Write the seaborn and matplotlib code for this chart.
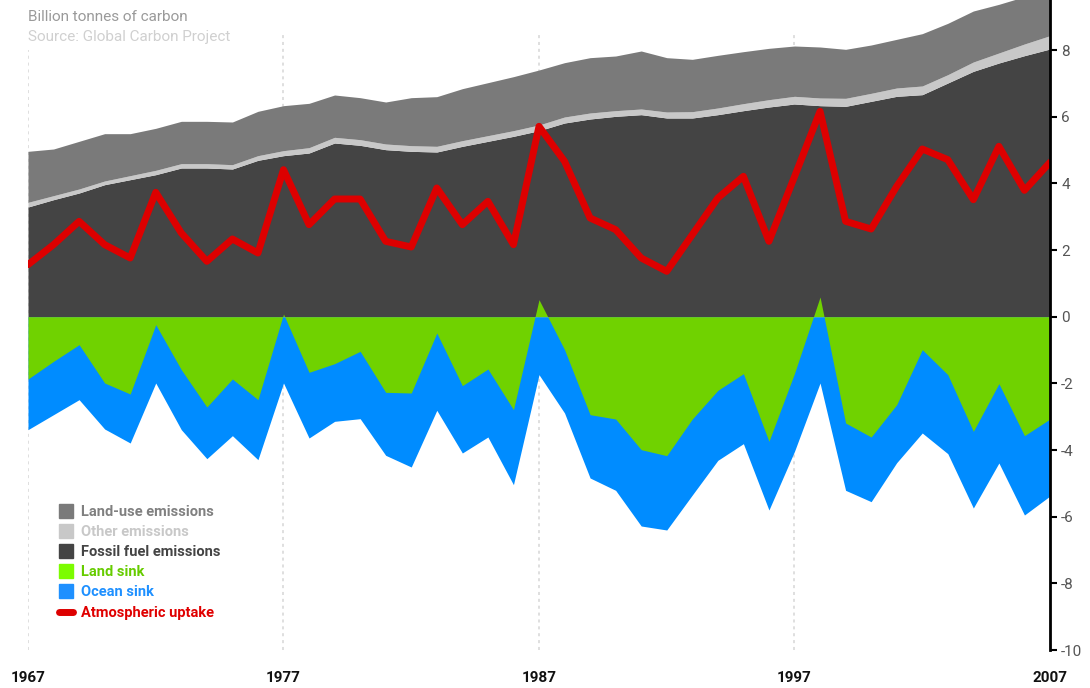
import numpy as np
import pandas as pd
import matplotlib
matplotlib.use("Agg")
import matplotlib.pyplot as plt
from matplotlib.lines import Line2D
import seaborn as sns

years = list(range(1967, 2008))
fossil = [3.29, 3.51, 3.71, 3.96, 4.11, 4.26, 4.46, 4.46, 4.43, 4.69,
          4.83, 4.91, 5.21, 5.14, 5.01, 4.96, 4.94, 5.11, 5.26, 5.41,
          5.58, 5.81, 5.93, 6.01, 6.06, 5.96, 5.96, 6.06, 6.18, 6.29,
          6.38, 6.33, 6.31, 6.46, 6.61, 6.66, 7.01, 7.36, 7.61, 7.83, 8.03]
other = [0.14, 0.12, 0.12, 0.11, 0.12, 0.13, 0.13, 0.13, 0.13, 0.14,
         0.15, 0.16, 0.17, 0.17, 0.17, 0.17, 0.17, 0.17, 0.17, 0.17,
         0.17, 0.18, 0.18, 0.17, 0.17, 0.18, 0.19, 0.20, 0.21, 0.22,
         0.23, 0.23, 0.24, 0.24, 0.25, 0.26, 0.25, 0.28, 0.30, 0.35, 0.40]
land_use = [1.53, 1.40, 1.43, 1.42, 1.26, 1.26, 1.27, 1.27, 1.28, 1.33,
            1.35, 1.33, 1.27, 1.26, 1.26, 1.44, 1.49, 1.56, 1.59, 1.62,
            1.65, 1.63, 1.66, 1.64, 1.74, 1.63, 1.57, 1.58, 1.56, 1.54,
            1.51, 1.53, 1.47, 1.45, 1.46, 1.57, 1.54, 1.53, 1.46, 1.42, 1.37]
land_sink = [-1.87, -1.34, -0.84, -1.99, -2.32, -0.24, -1.59, -2.71, -1.87, -2.49,
             0.08, -1.67, -1.41, -1.04, -2.27, -2.29, -0.49, -2.07, -1.57, -2.79,
             0.51, -0.99, -2.94, -3.07, -3.99, -4.17, -3.07, -2.21, -1.71, -3.74,
             -1.70, 0.59, -3.19, -3.61, -2.64, -0.99, -1.74, -3.44, -2.01, -3.57, -3.07]
ocean_sink = [-1.52, -1.60, -1.65, -1.38, -1.47, -1.75, -1.80, -1.55, -1.70, -1.80,
              -1.99, -1.97, -1.73, -2.02, -1.89, -2.22, -2.32, -2.02, -2.04, -2.25,
              -1.74, -1.90, -1.90, -2.14, -2.29, -2.23, -2.28, -2.10, -2.10, -2.06,
              -2.34, -1.99, -2.02, -1.94, -1.74, -2.50, -2.37, -2.30, -2.38, -2.38, -2.31]
atmospheric = [1.56, 2.16, 2.86, 2.16, 1.76, 3.73, 2.51, 1.66, 2.33, 1.91,
               4.41, 2.76, 3.53, 3.53, 2.26, 2.09, 3.86, 2.76, 3.46, 2.16,
               5.71, 4.66, 2.96, 2.61, 1.76, 1.36, 2.46, 3.56, 4.21, 2.26,
               4.20, 6.16, 2.86, 2.63, 3.91, 5.03, 4.71, 3.51, 5.11, 3.79, 4.63]

labels = ["Land-use emissions", "Other emissions", "Fossil fuel emissions",
          "Land sink", "Ocean sink", "Atmospheric uptake"]
x_ticks = [1967, 1977, 1987, 1997, 2007]
y_ticks = [-10, -8, -6, -4, -2, 0, 2, 4, 6, 8]

df = pd.DataFrame({"year": years, "fossil": fossil, "other": other,
                   "land_use": land_use, "land": land_sink, "ocean": ocean_sink,
                   "atmo": atmospheric})

sns.set_style("white")
plt.rcParams["font.family"] = ["Roboto", "DejaVu Sans"]

C_LU = "#7a7a7a"
C_OT = "#c8c8c8"
C_FF = "#444444"
C_LS = "#70d200"
C_OS = "#008cff"
C_RED = "#dd0000"

fig = plt.figure(figsize=(10.9, 6.88), dpi=100)
ax = fig.add_axes([28 / 1090, 38 / 688, 1022 / 1090, 650 / 688])

x = df["year"].to_numpy()
ff = df["fossil"].to_numpy()
ot = ff + df["other"].to_numpy()
tot = ot + df["land_use"].to_numpy()
land = df["land"].to_numpy()
ocean_bottom = np.minimum(land, 0) + df["ocean"].to_numpy()

# dotted vertical guides
for xv, top in zip([1967, 1977, 1987, 1997], [8.0, 8.45, 8.45, 8.45]):
    ax.vlines(xv, -10, top, colors="#d6d6d6", linestyles=(0, (2, 2.5)), lw=1.1, zorder=0)

ax.fill_between(x, 0, ff, color=C_FF, lw=0, zorder=1)
ax.fill_between(x, ff, ot, color=C_OT, lw=0, zorder=1)
ax.fill_between(x, ot, tot, color=C_LU, lw=0, zorder=1)
ax.fill_between(x, 0, ocean_bottom, color=C_OS, lw=0, zorder=2)
ax.fill_between(x, 0, land, color=C_LS, lw=0, zorder=3, interpolate=True)

sns.lineplot(data=df, x="year", y="atmo", ax=ax, color=C_RED, lw=5,
             zorder=5, legend=False)

ax.set_xlim(1967, 2007)
ax.set_ylim(-10, 9.5)
ax.set_xlabel("")
ax.set_ylabel("")

for s in ["left", "top", "bottom"]:
    ax.spines[s].set_visible(False)
ax.spines["right"].set_color("black")
ax.spines["right"].set_linewidth(2)
ax.spines["right"].set_zorder(6)
ax.yaxis.tick_right()
ax.set_yticks(y_ticks)
ax.set_yticklabels([str(v) if v >= 0 else "-" + str(-v) for v in y_ticks])
ax.tick_params(axis="y", direction="out", length=5, width=1.5, color="black",
               labelcolor="#555555", labelsize=11, pad=3)
ax.set_xticks(x_ticks)
ax.set_xticklabels([str(v) for v in x_ticks], fontweight="bold")
ax.tick_params(axis="x", length=0, labelsize=11, labelcolor="#111111", pad=15)
ax.grid(False)

fig.text(28 / 1090, 1 - 17 / 688, "Billion tonnes of carbon", color="#9a9a9a",
         fontsize=11, va="center", ha="left")
fig.text(28 / 1090, 1 - 37 / 688, "Source: Global Carbon Project", color="#d0d0d0",
         fontsize=11, va="center", ha="left")

handles = [
    Line2D([], [], marker="s", ls="none", markersize=9.5, color=C_LU),
    Line2D([], [], marker="s", ls="none", markersize=9.5, color=C_OT),
    Line2D([], [], marker="s", ls="none", markersize=9.5, color=C_FF),
    Line2D([], [], marker="s", ls="none", markersize=9.5, color="#7cfc00"),
    Line2D([], [], marker="s", ls="none", markersize=9.5, color="#1e90ff"),
    Line2D([], [], color=C_RED, lw=5, solid_capstyle="round"),
]
text_colors = ["#808080", "#c8c8c8", "#444444", "#66cc00", "#1e90ff", "#e00000"]
leg = ax.legend(handles, labels, loc="upper left",
                bbox_to_anchor=(59 / 1090, 1 - 505 / 688),
                bbox_transform=fig.transFigure, frameon=False,
                prop={"weight": "bold", "size": 10.5}, handlelength=0.95,
                handletextpad=0.55, labelspacing=0.42, borderpad=0,
                borderaxespad=0)
for t, c in zip(leg.get_texts(), text_colors):
    t.set_color(c)

fig.savefig("out.png", dpi=100)
